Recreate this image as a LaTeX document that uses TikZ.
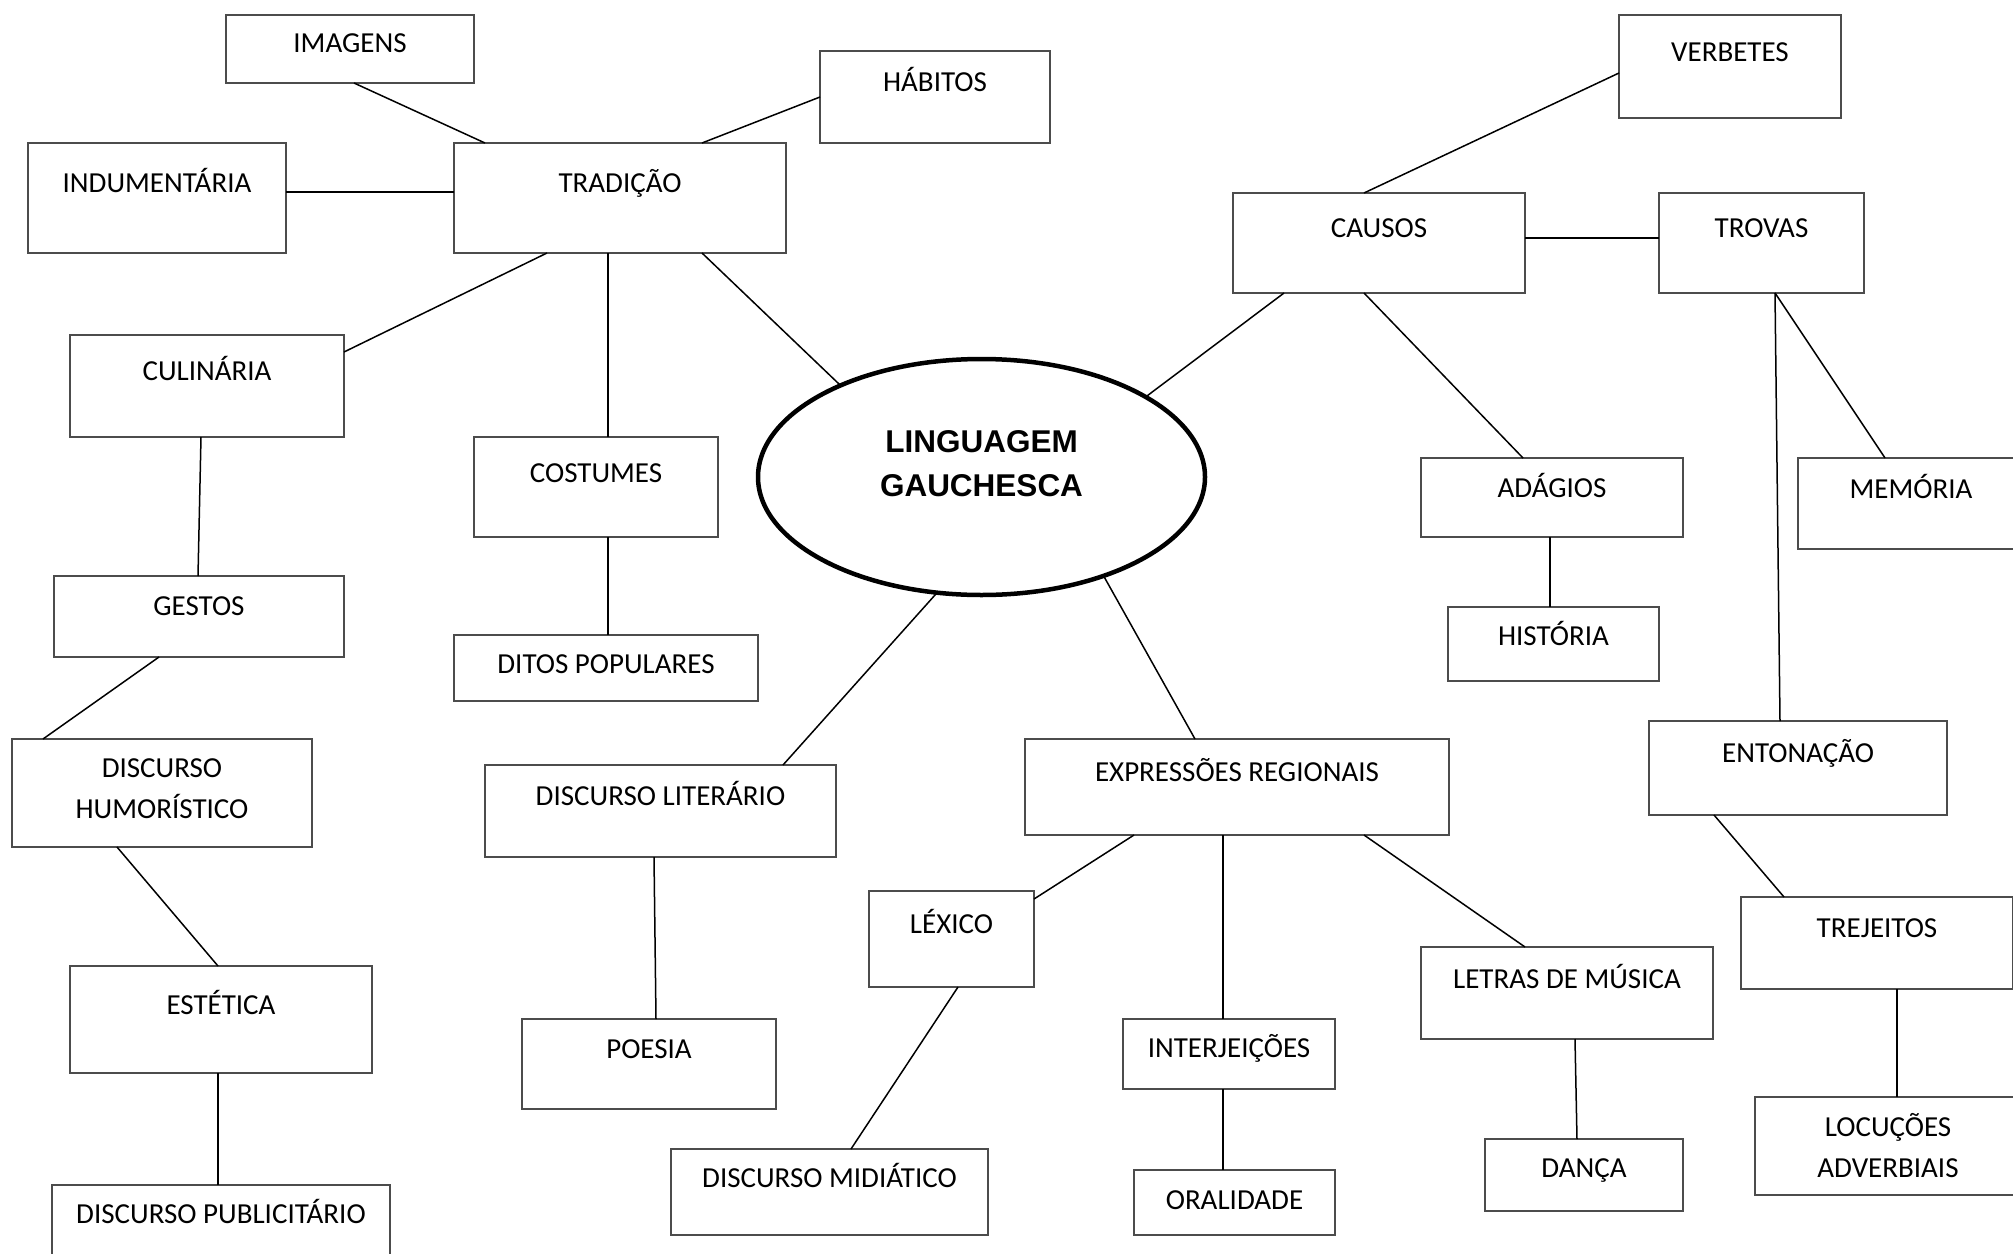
\documentclass[tikz,border=0pt]{standalone}
\usepackage{fontspec}
\setmainfont{Carlito}
\newfontfamily\arialf{Liberation Sans}
\usetikzlibrary{shapes.geometric}
\tikzset{
  boxst/.style={rectangle, draw=black!70, line width=1.2pt, fill=white, inner sep=0pt, outer sep=0pt, anchor=north west},
  lbl/.style={inner sep=0pt, anchor=base, font=\fontsize{29}{35}\selectfont},
  mainlbl/.style={inner sep=0pt, anchor=base, font=\arialf\bfseries\fontsize{31.5}{38}\selectfont},
  con/.style={line width=1.5pt, black},
  mainell/.style={ellipse, draw=black, line width=4.5pt, fill=white, inner sep=0pt, outer sep=0pt, minimum width=447pt, minimum height=236pt},
}
\newcommand\bx[5]{\node[boxst, minimum width={(#4)-(#2)}, minimum height={(#5)-(#3)}] (#1) at (#2,#3) {};}
\begin{document}
\begin{tikzpicture}[x=1pt,y=-1pt]
\useasboundingbox[fill=white] (0,0) rectangle (2013,1253);
% boxes
\bx{imagens}{226}{15}{474}{83}
\bx{habitos}{820}{51}{1050}{143}
\bx{indum}{28}{143}{286}{253}
\bx{tradicao}{454}{143}{786}{253}
\bx{culinaria}{70}{335}{344}{437}
\bx{costumes}{474}{437}{718}{537}
\bx{gestos}{54}{576}{344}{657}
\bx{ditos}{454}{635}{758}{701}
\bx{humor}{12}{739}{312}{847}
\bx{literario}{485}{765}{836}{857}
\bx{estetica}{70}{966}{372}{1073}
\bx{poesia}{522}{1019}{776}{1109}
\bx{lexico}{869}{891}{1034}{987}
\bx{midiatico}{671}{1149}{988}{1235}
\bx{publicitario}{52}{1185}{390}{1275}
\bx{verbetes}{1619}{15}{1841}{118}
\bx{causos}{1233}{193}{1525}{293}
\bx{trovas}{1659}{193}{1864}{293}
\bx{adagios}{1421}{458}{1683}{537}
\bx{memoria}{1798}{458}{2024}{549}
\bx{historia}{1448}{607}{1659}{681}
\bx{entonacao}{1649}{721}{1947}{815}
\bx{expressoes}{1025}{739}{1449}{835}
\bx{trejeitos}{1741}{897}{2013}{989}
\bx{letras}{1421}{947}{1713}{1039}
\bx{interj}{1123}{1019}{1335}{1089}
\bx{oralidade}{1134}{1170}{1335}{1235}
\bx{danca}{1485}{1139}{1683}{1211}
\bx{locucoes}{1755}{1097}{2021}{1195}
\node[mainell] (lg) at (981.5,477) {};
% labels
\node[lbl] (imagens-t) at (imagens.north |- 0,52) {IMAGENS};
\node[lbl] (habitos-t) at (habitos.north |- 0,91) {HÁBITOS};
\node[lbl] (indum-t) at (indum.north |- 0,192) {INDUMENTÁRIA};
\node[lbl] (tradicao-t) at (tradicao.north |- 0,192) {TRADIÇÃO};
\node[lbl] (culinaria-t) at (culinaria.north |- 0,380) {CULINÁRIA};
\node[lbl] (costumes-t) at (costumes.north |- 0,482) {COSTUMES};
\node[lbl] (gestos-t) at (gestos.north |- 0,615) {GESTOS};
\node[lbl] (ditos-t) at (ditos.north |- 0,673) {DITOS POPULARES};
\node[lbl] (humor-t1) at (humor.north |- 0,777) {DISCURSO};
\node[lbl] (humor-t2) at (humor.north |- 0,818) {HUMORÍSTICO};
\node[lbl] (literario-t) at (literario.north |- 0,805) {DISCURSO LITERÁRIO};
\node[lbl] (estetica-t) at (estetica.north |- 0,1014) {ESTÉTICA};
\node[lbl] (poesia-t) at (poesia.north |- 0,1058) {POESIA};
\node[lbl] (lexico-t) at (lexico.north |- 0,933) {LÉXICO};
\node[lbl] (midiatico-t) at (midiatico.north |- 0,1187) {DISCURSO MIDIÁTICO};
\node[lbl] (publicitario-t) at (publicitario.north |- 0,1223) {DISCURSO PUBLICITÁRIO};
\node[lbl] (verbetes-t) at (verbetes.north |- 0,61) {VERBETES};
\node[lbl] (causos-t) at (causos.north |- 0,237) {CAUSOS};
\node[lbl] (trovas-t) at (trovas.north |- 0,237) {TROVAS};
\node[lbl] (adagios-t) at (adagios.north |- 0,497) {ADÁGIOS};
\node[lbl] (memoria-t) at (memoria.north |- 0,498) {MEMÓRIA};
\node[lbl] (historia-t) at (historia.north |- 0,645) {HISTÓRIA};
\node[lbl] (entonacao-t) at (entonacao.north |- 0,762) {ENTONAÇÃO};
\node[lbl] (expressoes-t) at (expressoes.north |- 0,781) {EXPRESSÕES REGIONAIS};
\node[lbl] (trejeitos-t) at (trejeitos.north |- 0,937) {TREJEITOS};
\node[lbl] (letras-t) at (letras.north |- 0,988) {LETRAS DE MÚSICA};
\node[lbl] (interj-t) at (interj.north |- 0,1057) {INTERJEIÇÕES};
\node[lbl] (oralidade-t) at (oralidade.north |- 0,1209) {ORALIDADE};
\node[lbl] (danca-t) at (danca.north |- 0,1177) {DANÇA};
\node[lbl] (locucoes-t1) at (locucoes.north |- 0,1136) {LOCUÇÕES};
\node[lbl] (locucoes-t2) at (locucoes.north |- 0,1177) {ADVERBIAIS};
\node[mainlbl] (lg-t1) at (lg.north |- 0,452) {LINGUAGEM};
\node[mainlbl] (lg-t2) at (lg.north |- 0,496) {GAUCHESCA};
% connectors
\draw[con] (imagens.south -| 354,0) -- (tradicao.north -| 485,0);
\draw[con] (habitos.west |- 0,97) -- (tradicao.north -| 702,0);
\draw[con] (indum.east |- 0,192) -- (tradicao.west |- 0,192);
\draw[con] (tradicao.south -| 547,0) -- (culinaria.east |- 0,352);
\draw[con] (tradicao.south -| 608,0) -- (costumes.north -| 608,0);
\draw[con] (tradicao.south -| 702,0) -- (lg.147.6);
\draw[con] (culinaria.south -| 201,0) -- (gestos.north -| 198,0);
\draw[con] (costumes.south -| 608,0) -- (ditos.north -| 608,0);
\draw[con] (gestos.south -| 159,0) -- (humor.north -| 43,0);
\draw[con] (humor.south -| 117,0) -- (estetica.north -| 218,0);
\draw[con] (estetica.south -| 218,0) -- (publicitario.north -| 218,0);
\draw[con] (literario.north -| 783,0) -- (lg.249.8);
\draw[con] (literario.south -| 654,0) -- (poesia.north -| 656,0);
\draw[con] (lexico.south -| 958,0) -- (midiatico.north -| 851,0);
\draw[con] (verbetes.west |- 0,73) -- (causos.north -| 1364,0);
\draw[con] (causos.east |- 0,238) -- (trovas.west |- 0,238);
\draw[con] (causos.south -| 1284,0) -- (lg.26);
\draw[con] (causos.south -| 1364,0) -- (adagios.north -| 1523,0);
\draw[con] (trovas.south -| 1775,0) -- (memoria.north -| 1885,0);
\draw[con] (trovas.south -| 1775,0) -- (entonacao.north -| 1780,0);
\draw[con] (adagios.south -| 1550,0) -- (historia.north -| 1550,0);
\draw[con] (lg.321) -- (expressoes.north -| 1195,0);
\draw[con] (expressoes.south -| 1134,0) -- (lexico.east |- 0,899);
\draw[con] (expressoes.south -| 1223,0) -- (interj.north -| 1223,0);
\draw[con] (expressoes.south -| 1364,0) -- (letras.north -| 1525,0);
\draw[con] (interj.south -| 1223,0) -- (oralidade.north -| 1223,0);
\draw[con] (letras.south -| 1575,0) -- (danca.north -| 1577,0);
\draw[con] (entonacao.south -| 1714,0) -- (trejeitos.north -| 1784,0);
\draw[con] (trejeitos.south -| 1897,0) -- (locucoes.north -| 1897,0);
\end{tikzpicture}
\end{document}
